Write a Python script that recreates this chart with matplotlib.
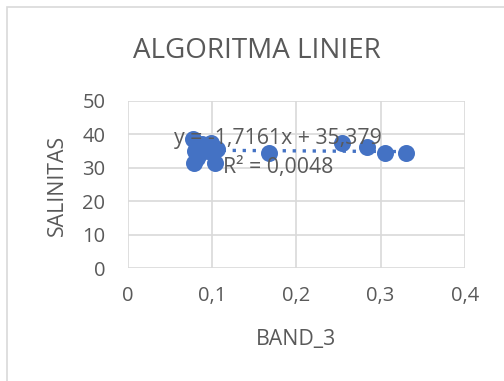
import matplotlib
matplotlib.use("Agg")
import matplotlib.pyplot as plt
from matplotlib.patches import Rectangle
from matplotlib.ticker import FuncFormatter
import numpy as np

band_3 = [0.077, 0.079, 0.103, 0.099, 0.168, 0.254, 0.284, 0.305, 0.330,
          0.080, 0.085, 0.090, 0.082, 0.095, 0.106, 0.088, 0.083]
salinitas = [38.5, 31.3, 31.3, 37.3, 34.3, 37.5, 36.3, 34.3, 34.3,
             35.0, 34.0, 36.0, 33.0, 35.0, 35.5, 37.0, 36.0]

slope = -1.7161
intercept = 35.379
r2 = 0.0048

x_ticks = [0, 0.1, 0.2, 0.3, 0.4]
y_ticks = [0, 10, 20, 30, 40, 50]

txt = "#595959"
grid = "#d9d9d9"
blue = "#4472C4"
plt.rcParams["font.family"] = ["Open Sans", "DejaVu Sans"]

fig = plt.figure(figsize=(5.04, 3.81), dpi=100)
fig.patches.append(Rectangle((7 / 504, -0.1), 1.2, 1 - 7 / 381 + 0.1,
                             transform=fig.transFigure, fill=False,
                             edgecolor=grid, linewidth=1.2))

ax = fig.add_axes([127.7 / 504, 1 - 268.3 / 381, (465 - 127.7) / 504, (268.3 - 100.7) / 381])
ax.set_xlim(0, 0.4)
ax.set_ylim(0, 50)
ax.set_xticks(x_ticks)
ax.set_yticks(y_ticks)
fmt = FuncFormatter(lambda v, p: ("%g" % v).replace(".", ","))
ax.xaxis.set_major_formatter(fmt)
ax.yaxis.set_major_formatter(fmt)
ax.grid(True, color=grid, linewidth=1.2)
ax.set_axisbelow(True)
for s in ax.spines.values():
    s.set_visible(False)
ax.tick_params(axis="y", length=0, colors=txt, labelsize=14.5, pad=16)
ax.tick_params(axis="x", length=0, colors=txt, labelsize=14.5, pad=13)

ax.scatter(band_3, salinitas, s=150, color=blue, zorder=3, linewidths=0)

xl = np.array([min(band_3), max(band_3)])
ax.plot(xl, slope * xl + intercept, linestyle=(0, (1, 2)), color=blue,
        linewidth=2.4, zorder=2)

eq = "y = %sx + %s" % (("%.4f" % slope).replace(".", ","), ("%.3f" % intercept).replace(".", ","))
ax.text(0.055, 38.8, eq, color=txt, fontsize=15.3, va="center", ha="left", zorder=4)
ax.text(0.113, 30.2, "R² = " + ("%.4f" % r2).replace(".", ","), color=txt,
        fontsize=15.3, va="center", ha="left", zorder=4)

fig.text(257 / 504, 1 - 51 / 381, "ALGORITMA LINIER", color=txt, fontsize=20,
         ha="center", va="center")
ax.set_xlabel("BAND_3", color=txt, fontsize=15.3)
ax.set_ylabel("SALINITAS", color=txt, fontsize=15.3)
ax.xaxis.label.set_va("center")
ax.yaxis.label.set_va("center")
ax.xaxis.set_label_coords((296 - 127.7) / 337.3, (268.3 - 340) / 167.6)
ax.yaxis.set_label_coords((57 - 127.7) / 337.3, (268.3 - 185) / 167.6)

fig.savefig("out.png", dpi=100)
